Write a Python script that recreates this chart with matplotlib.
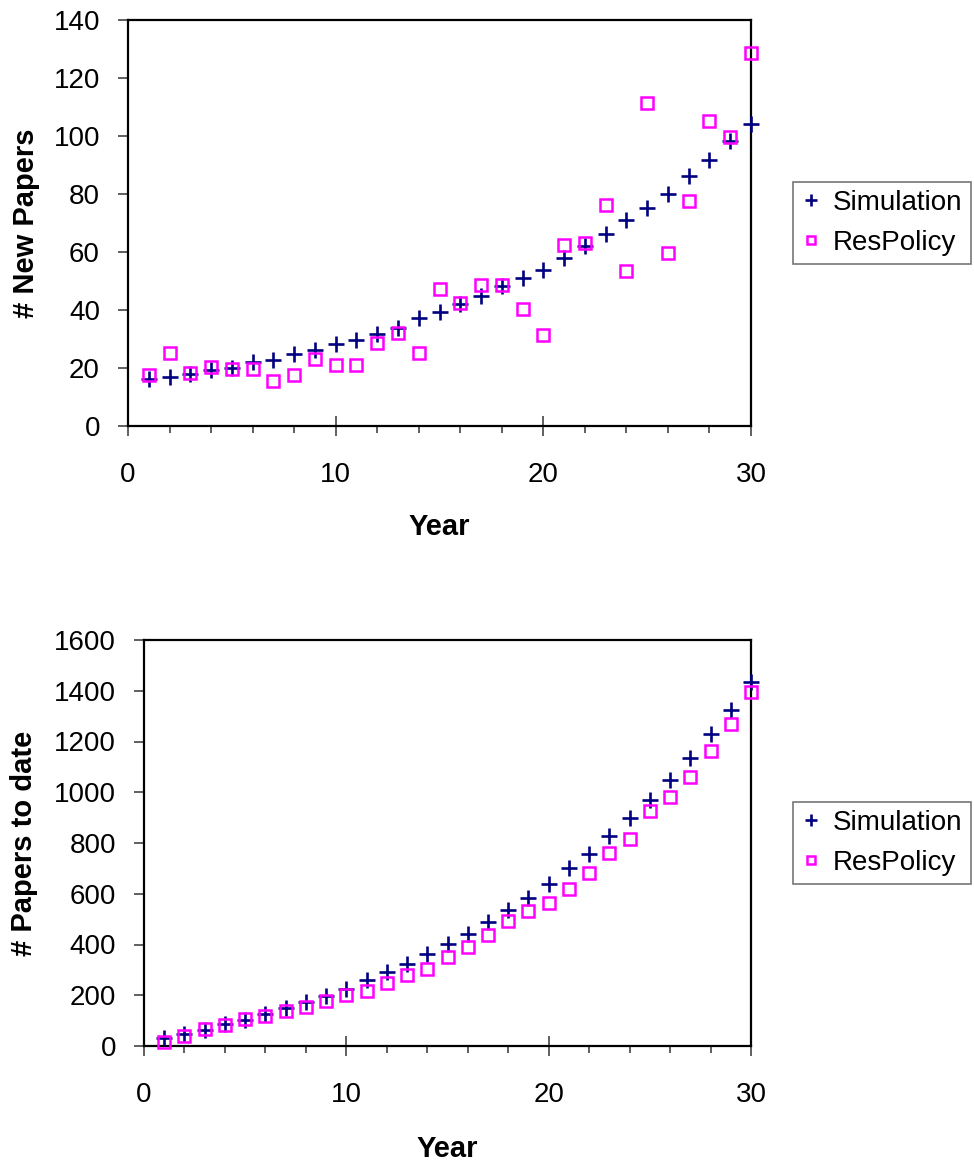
import matplotlib
matplotlib.use("Agg")
import matplotlib.pyplot as plt
from matplotlib.ticker import MultipleLocator

plt.rcParams['font.family'] = ['Liberation Sans', 'DejaVu Sans']

years = list(range(1, 31))

# new papers per year
sim_new = [16.1, 17.0, 17.8, 19.3, 19.9, 22.2, 22.8, 24.7, 26.2, 28.2,
           29.7, 31.7, 33.7, 37.1, 39.3, 42.1, 44.8, 48.3, 50.9, 53.8,
           57.8, 62.1, 66.2, 71.0, 75.1, 80.0, 86.3, 91.7, 98.3, 104.1]
res_new = [17.6, 25.1, 18.2, 20.5, 19.5, 19.5, 15.5, 17.6, 23.0, 20.9,
           20.9, 28.7, 32.2, 25.1, 47.1, 42.3, 48.6, 48.6, 40.2, 31.4,
           62.4, 63.0, 76.2, 53.4, 111.5, 59.5, 77.6, 105.3, 99.8, 128.7]

# papers to date
sim_total = [30, 46, 63, 85, 102, 125, 148, 172, 197, 225,
             260, 290, 323, 363, 401, 441, 487, 536, 582, 637,
             703, 755, 828, 897, 969, 1048, 1134, 1230, 1324, 1436]
res_total = [17, 41, 66, 83, 105, 120, 138, 155, 177, 201,
             217, 247, 280, 303, 352, 389, 437, 493, 532, 562,
             619, 680, 759, 816, 926, 982, 1061, 1164, 1268, 1394]

W, H = 974, 1162
fig = plt.figure(figsize=(W / 100, H / 100), dpi=100)


def make_axes(left, right, top, bottom):
    return fig.add_axes([left / W, 1 - bottom / H, (right - left) / W, (bottom - top) / H])


def style(ax, sim, res, ymax, ystep, ylabel, ylab_x, xlab_y, leg_x):
    ax.plot(years, sim, '+', color='#000080', markersize=11, markeredgewidth=1.9,
            label='Simulation', clip_on=False, zorder=3)
    ax.plot(years, res, 's', color='#FF00FF', markerfacecolor='none', markersize=8.5,
            markeredgewidth=1.8, label='ResPolicy', clip_on=False, zorder=3)
    ax.set_xlim(0, 30)
    ax.set_ylim(0, ymax)
    ax.xaxis.set_major_locator(MultipleLocator(10))
    ax.xaxis.set_minor_locator(MultipleLocator(2))
    ax.yaxis.set_major_locator(MultipleLocator(ystep))
    for s in ax.spines.values():
        s.set_linewidth(1.6)
        s.set_color('black')
    ax.tick_params(axis='x', which='major', direction='inout', length=14.4, width=1.2,
                   color='#444444', labelsize=20, pad=18.5)
    ax.tick_params(axis='x', which='minor', direction='out', length=5, width=1.2,
                   color='#444444')
    ax.tick_params(axis='y', which='major', direction='out', length=7.2, width=1.2,
                   color='#444444', labelsize=20, pad=13)
    ax.set_xlabel('Year', fontsize=21, fontweight='bold', va='top')
    ax.xaxis.set_label_coords(0.5, xlab_y)
    ax.set_ylabel(ylabel, fontsize=21, fontweight='bold')
    ax.yaxis.set_label_coords(ylab_x, 0.5)
    leg = ax.legend(loc='center left', bbox_to_anchor=(leg_x, 0.5), borderaxespad=0,
                    fontsize=20, frameon=True, fancybox=False, markerscale=0.75,
                    handlelength=0.7, handletextpad=0.45, borderpad=0.3,
                    labelspacing=0.5)
    leg.get_frame().set_edgecolor('#555555')
    leg.get_frame().set_linewidth(1.2)


ax1 = make_axes(128, 751, 20, 426)
style(ax1, sim_new, res_new, 140, 20, '# New Papers', -0.141, -0.215, 1.067)

ax2 = make_axes(144, 751, 640, 1046)
style(ax2, sim_total, res_total, 1600, 200, '# Papers to date', -0.175, -0.218, 1.069)

fig.savefig('out.png', dpi=100)
